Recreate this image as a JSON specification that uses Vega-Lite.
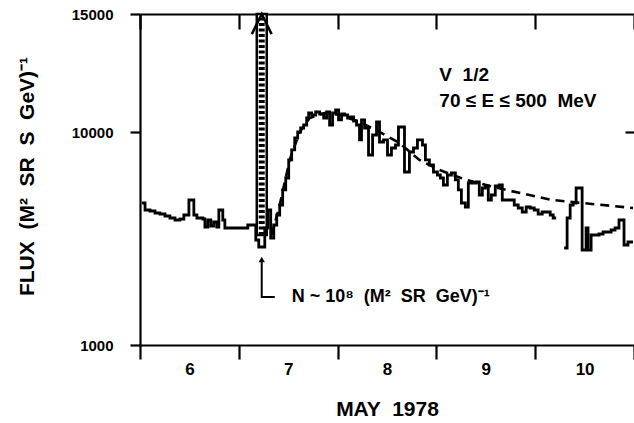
{
  "$schema": "https://vega.github.io/schema/vega-lite/v6.json",
  "width": 494,
  "height": 331,
  "autosize": "none",
  "padding": {"left": 140, "top": 14, "right": 0, "bottom": 78},
  "background": "white",
  "config": {
    "view": {"stroke": null},
    "font": "Liberation Sans",
    "axis": {
      "domainColor": "black", "tickColor": "black", "domainWidth": 2.2, "tickWidth": 2.2,
      "labelColor": "black", "titleColor": "black",
      "labelFont": "Liberation Sans", "titleFont": "Liberation Sans",
      "labelFontWeight": "bold", "titleFontWeight": "bold", "grid": false
    }
  },
  "datasets": {
    "hist": [
      {"seg": "a", "day": 6.02, "flux": 7007}, {"seg": "a", "day": 6.051, "flux": 6711}, {"seg": "a", "day": 6.101, "flux": 6668},
      {"seg": "a", "day": 6.152, "flux": 6584}, {"seg": "a", "day": 6.202, "flux": 6541}, {"seg": "a", "day": 6.253, "flux": 6457},
      {"seg": "a", "day": 6.303, "flux": 6372}, {"seg": "a", "day": 6.354, "flux": 6288}, {"seg": "a", "day": 6.404, "flux": 6330},
      {"seg": "a", "day": 6.444, "flux": 6499}, {"seg": "a", "day": 6.495, "flux": 7134}, {"seg": "a", "day": 6.545, "flux": 6499},
      {"seg": "a", "day": 6.576, "flux": 6372}, {"seg": "a", "day": 6.636, "flux": 6330}, {"seg": "a", "day": 6.657, "flux": 5991},
      {"seg": "a", "day": 6.687, "flux": 6288}, {"seg": "a", "day": 6.717, "flux": 6034}, {"seg": "a", "day": 6.747, "flux": 6203},
      {"seg": "a", "day": 6.778, "flux": 5991}, {"seg": "a", "day": 6.798, "flux": 6711}, {"seg": "a", "day": 6.838, "flux": 6288},
      {"seg": "a", "day": 6.859, "flux": 5949}, {"seg": "a", "day": 7.071, "flux": 5949}, {"seg": "a", "day": 7.091, "flux": 6076},
      {"seg": "a", "day": 7.172, "flux": 5442}, {"seg": "a", "day": 7.202, "flux": 5145}, {"seg": "a", "day": 7.263, "flux": 5949},
      {"seg": "a", "day": 7.293, "flux": 6711}, {"seg": "a", "day": 7.323, "flux": 5526}, {"seg": "a", "day": 7.354, "flux": 6076},
      {"seg": "a", "day": 7.384, "flux": 6499}, {"seg": "a", "day": 7.414, "flux": 6922}, {"seg": "a", "day": 7.444, "flux": 7557},
      {"seg": "a", "day": 7.475, "flux": 8064}, {"seg": "a", "day": 7.505, "flux": 8826}, {"seg": "a", "day": 7.535, "flux": 9249},
      {"seg": "a", "day": 7.566, "flux": 9756}, {"seg": "a", "day": 7.596, "flux": 10010}, {"seg": "a", "day": 7.626, "flux": 10179},
      {"seg": "a", "day": 7.657, "flux": 10306}, {"seg": "a", "day": 7.687, "flux": 10602}, {"seg": "a", "day": 7.707, "flux": 10814},
      {"seg": "a", "day": 7.737, "flux": 10729}, {"seg": "a", "day": 7.778, "flux": 10856}, {"seg": "a", "day": 7.818, "flux": 10771},
      {"seg": "a", "day": 7.859, "flux": 10602}, {"seg": "a", "day": 7.889, "flux": 10856}, {"seg": "a", "day": 7.919, "flux": 10306},
      {"seg": "a", "day": 7.949, "flux": 10814}, {"seg": "a", "day": 7.98, "flux": 10941}, {"seg": "a", "day": 8.01, "flux": 10518},
      {"seg": "a", "day": 8.04, "flux": 10771}, {"seg": "a", "day": 8.071, "flux": 10729}, {"seg": "a", "day": 8.101, "flux": 10602},
      {"seg": "a", "day": 8.131, "flux": 10644}, {"seg": "a", "day": 8.162, "flux": 10475}, {"seg": "a", "day": 8.192, "flux": 10306},
      {"seg": "a", "day": 8.222, "flux": 9672}, {"seg": "a", "day": 8.242, "flux": 10518}, {"seg": "a", "day": 8.273, "flux": 10179},
      {"seg": "a", "day": 8.313, "flux": 9037}, {"seg": "a", "day": 8.354, "flux": 9883}, {"seg": "a", "day": 8.394, "flux": 10433},
      {"seg": "a", "day": 8.424, "flux": 9587}, {"seg": "a", "day": 8.465, "flux": 9672}, {"seg": "a", "day": 8.505, "flux": 9037},
      {"seg": "a", "day": 8.545, "flux": 9333}, {"seg": "a", "day": 8.586, "flux": 9460}, {"seg": "a", "day": 8.616, "flux": 10221},
      {"seg": "a", "day": 8.677, "flux": 8318}, {"seg": "a", "day": 8.727, "flux": 9164}, {"seg": "a", "day": 8.768, "flux": 9333},
      {"seg": "a", "day": 8.808, "flux": 9672}, {"seg": "a", "day": 8.859, "flux": 9460}, {"seg": "a", "day": 8.889, "flux": 8826},
      {"seg": "a", "day": 8.929, "flux": 8614}, {"seg": "a", "day": 8.97, "flux": 8318}, {"seg": "a", "day": 9.01, "flux": 8191},
      {"seg": "a", "day": 9.04, "flux": 8064}, {"seg": "a", "day": 9.071, "flux": 7768}, {"seg": "a", "day": 9.111, "flux": 8191},
      {"seg": "a", "day": 9.152, "flux": 8276}, {"seg": "a", "day": 9.192, "flux": 7980}, {"seg": "a", "day": 9.222, "flux": 7557},
      {"seg": "a", "day": 9.253, "flux": 7007}, {"seg": "a", "day": 9.293, "flux": 6837}, {"seg": "a", "day": 9.323, "flux": 7853},
      {"seg": "a", "day": 9.404, "flux": 7895}, {"seg": "a", "day": 9.434, "flux": 7345}, {"seg": "a", "day": 9.465, "flux": 7641},
      {"seg": "a", "day": 9.495, "flux": 7726}, {"seg": "a", "day": 9.525, "flux": 7134}, {"seg": "a", "day": 9.556, "flux": 7345},
      {"seg": "a", "day": 9.596, "flux": 7726}, {"seg": "a", "day": 9.636, "flux": 7768}, {"seg": "a", "day": 9.667, "flux": 7134},
      {"seg": "a", "day": 9.788, "flux": 6922}, {"seg": "a", "day": 9.828, "flux": 6795}, {"seg": "a", "day": 9.869, "flux": 6626},
      {"seg": "a", "day": 9.909, "flux": 6837}, {"seg": "a", "day": 9.949, "flux": 6795}, {"seg": "a", "day": 9.99, "flux": 6711},
      {"seg": "a", "day": 10.03, "flux": 6541}, {"seg": "a", "day": 10.071, "flux": 6626}, {"seg": "a", "day": 10.152, "flux": 6499},
      {"seg": "a", "day": 10.182, "flux": 6372}, {"seg": "a", "day": 10.212, "flux": 6372},
      {"seg": "b", "day": 10.293, "flux": 5103}, {"seg": "b", "day": 10.323, "flux": 6372}, {"seg": "b", "day": 10.354, "flux": 6922},
      {"seg": "b", "day": 10.384, "flux": 7007}, {"seg": "b", "day": 10.414, "flux": 7641}, {"seg": "b", "day": 10.475, "flux": 5019},
      {"seg": "b", "day": 10.515, "flux": 5949}, {"seg": "b", "day": 10.535, "flux": 5019}, {"seg": "b", "day": 10.566, "flux": 5653},
      {"seg": "b", "day": 10.646, "flux": 5695}, {"seg": "b", "day": 10.687, "flux": 5780}, {"seg": "b", "day": 10.768, "flux": 5865},
      {"seg": "b", "day": 10.808, "flux": 5949}, {"seg": "b", "day": 10.848, "flux": 6288}, {"seg": "b", "day": 10.899, "flux": 5230},
      {"seg": "b", "day": 10.939, "flux": 5357}, {"seg": "b", "day": 10.99, "flux": 5357}
    ],
    "fit": [
      {"day": 7.333, "flux": 5653}, {"day": 7.414, "flux": 6922}, {"day": 7.515, "flux": 8826}, {"day": 7.616, "flux": 10010},
      {"day": 7.717, "flux": 10602}, {"day": 7.869, "flux": 10814}, {"day": 8.02, "flux": 10729}, {"day": 8.222, "flux": 10433},
      {"day": 8.424, "flux": 10010}, {"day": 8.626, "flux": 9545}, {"day": 8.828, "flux": 8826}, {"day": 9.03, "flux": 8403},
      {"day": 9.303, "flux": 7980}, {"day": 9.707, "flux": 7557}, {"day": 10.172, "flux": 7134}, {"day": 10.475, "flux": 7007},
      {"day": 10.99, "flux": 6795}
    ],
    "bar": [{"day": 7.182, "day2": 7.283, "mid": 7.232, "lo": 5650, "hi": 15000}],
    "head": [{"o": 1, "day": 7.132, "flux": 14150}, {"o": 2, "day": 7.232, "flux": 15000}, {"o": 3, "day": 7.332, "flux": 14150}],
    "marker": [{"o": 1, "day": 7.364, "flux": 3030}, {"o": 2, "day": 7.232, "flux": 3030}, {"o": 3, "day": 7.232, "flux": 4550}],
    "tip": [{"day": 7.232, "flux": 4620}],
    "notes": [
      {"day": 9.03, "flux": 12420, "label": "V \u00a01/2"},
      {"day": 9.03, "flux": 11300, "label": "70 ≤ E ≤ 500 \u00a0MeV"}
    ],
    "nlabel": [{"day": 7.535, "flux": 3050, "label": "N ~ 10⁸ \u00a0(M² \u00a0SR \u00a0GeV)⁻¹"}]
  },
  "resolve": {"axis": {"x": "independent", "y": "independent"}},
  "layer": [
    {
      "data": {"name": "bar"},
      "mark": {"type": "rect", "fill": "white", "stroke": "black", "strokeWidth": 2.5},
      "encoding": {
        "x": {"field": "day", "type": "quantitative", "scale": {"domain": [6, 11], "nice": false, "zero": false}, "axis": null},
        "x2": {"field": "day2"},
        "y": {"field": "lo", "type": "quantitative", "scale": {"domain": [1000, 15000], "nice": false, "zero": false}, "axis": null},
        "y2": {"field": "hi"}
      }
    },
    {
      "data": {"name": "bar"},
      "mark": {"type": "rule", "color": "black", "strokeWidth": 6, "strokeDash": [3, 2.5]},
      "encoding": {
        "x": {"field": "mid", "type": "quantitative", "scale": {"domain": [6, 11], "nice": false, "zero": false}, "axis": null},
        "y": {"field": "lo", "type": "quantitative", "scale": {"domain": [1000, 15000], "nice": false, "zero": false}, "axis": null},
        "y2": {"field": "hi"}
      }
    },
    {
      "data": {"name": "hist"},
      "mark": {"type": "line", "interpolate": "step-after", "color": "black", "strokeWidth": 2.8},
      "encoding": {
        "x": {
          "field": "day", "type": "quantitative",
          "scale": {"domain": [6, 11], "nice": false, "zero": false},
          "axis": {
            "orient": "bottom", "values": [6, 7, 8, 9, 10, 11],
            "labelExpr": "datum.value < 11 ? format(datum.value, 'd') : ''",
            "labelOffset": 49.4, "labelFlush": false, "labelOverlap": false,
            "tickSize": 14, "labelPadding": 15, "labelBaseline": "alphabetic", "labelFontSize": 17,
            "title": "MAY \u00a01978", "titleFontSize": 21, "titleX": 247, "titleY": 70,
            "titleBaseline": "alphabetic", "titleAlign": "center"
          }
        },
        "y": {
          "field": "flux", "type": "quantitative",
          "scale": {"domain": [1000, 15000], "nice": false, "zero": false},
          "axis": {
            "orient": "left", "values": [1000, 10000, 15000], "format": "d",
            "tickSize": 10, "labelPadding": 17, "labelFontSize": 15,
            "title": "FLUX \u00a0(M² \u00a0SR \u00a0S \u00a0GeV)⁻¹", "titleFontSize": 21,
            "titleX": -107, "titleY": 162, "titleAngle": -90,
            "titleBaseline": "alphabetic", "titleAlign": "center"
          }
        },
        "detail": {"field": "seg", "type": "nominal"}
      }
    },
    {
      "data": {"name": "fit"},
      "mark": {"type": "line", "color": "black", "strokeWidth": 2.6, "strokeDash": [9, 6]},
      "encoding": {
        "x": {
          "field": "day", "type": "quantitative",
          "scale": {"domain": [6, 11], "nice": false, "zero": false},
          "axis": {"orient": "top", "values": [6, 7, 8, 9, 10, 11], "tickSize": -15, "labels": false, "title": null}
        },
        "y": {
          "field": "flux", "type": "quantitative",
          "scale": {"domain": [1000, 15000], "nice": false, "zero": false},
          "axis": {"orient": "right", "values": [10000], "tickSize": -9, "labels": false, "title": null, "domain": false}
        }
      }
    },
    {
      "data": {"name": "head"},
      "mark": {"type": "line", "color": "black", "strokeWidth": 2.5},
      "encoding": {
        "x": {"field": "day", "type": "quantitative", "scale": {"domain": [6, 11], "nice": false, "zero": false}, "axis": null},
        "y": {"field": "flux", "type": "quantitative", "scale": {"domain": [1000, 15000], "nice": false, "zero": false}, "axis": null},
        "order": {"field": "o"}
      }
    },
    {
      "data": {"name": "marker"},
      "mark": {"type": "line", "color": "black", "strokeWidth": 2},
      "encoding": {
        "x": {"field": "day", "type": "quantitative", "scale": {"domain": [6, 11], "nice": false, "zero": false}, "axis": null},
        "y": {"field": "flux", "type": "quantitative", "scale": {"domain": [1000, 15000], "nice": false, "zero": false}, "axis": null},
        "order": {"field": "o"}
      }
    },
    {
      "data": {"name": "tip"},
      "mark": {"type": "point", "shape": "triangle-up", "filled": true, "color": "black", "size": 40, "opacity": 1},
      "encoding": {
        "x": {"field": "day", "type": "quantitative", "scale": {"domain": [6, 11], "nice": false, "zero": false}, "axis": null},
        "y": {"field": "flux", "type": "quantitative", "scale": {"domain": [1000, 15000], "nice": false, "zero": false}, "axis": null}
      }
    },
    {
      "data": {"name": "notes"},
      "mark": {"type": "text", "align": "left", "baseline": "middle", "fontSize": 19, "fontWeight": "bold", "font": "Liberation Sans", "color": "black"},
      "encoding": {
        "x": {"field": "day", "type": "quantitative", "scale": {"domain": [6, 11], "nice": false, "zero": false}, "axis": null},
        "y": {"field": "flux", "type": "quantitative", "scale": {"domain": [1000, 15000], "nice": false, "zero": false}, "axis": null},
        "text": {"field": "label"}
      }
    },
    {
      "data": {"name": "nlabel"},
      "mark": {"type": "text", "align": "left", "baseline": "middle", "fontSize": 18, "fontWeight": "bold", "font": "Liberation Sans", "color": "black"},
      "encoding": {
        "x": {"field": "day", "type": "quantitative", "scale": {"domain": [6, 11], "nice": false, "zero": false}, "axis": null},
        "y": {"field": "flux", "type": "quantitative", "scale": {"domain": [1000, 15000], "nice": false, "zero": false}, "axis": null},
        "text": {"field": "label"}
      }
    }
  ]
}
